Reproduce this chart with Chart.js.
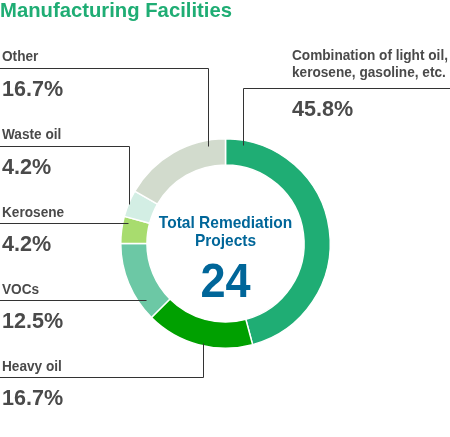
<!DOCTYPE html>
<html>
<head>
<meta charset="utf-8">
<script src="https://cdn.jsdelivr.net/npm/chart.js@4"></script>
<style>
  html, body { margin: 0; padding: 0; background: #fff; }
  #wrap { position: relative; width: 450px; height: 437px; }
</style>
</head>
<body>
<div id="wrap"><canvas id="grafico" width="450" height="437"></canvas></div>
<script>
const TITULO = 'Manufacturing Facilities';
const categorias = ['Combination of light oil, kerosene, gasoline, etc.', 'Heavy oil', 'VOCs', 'Kerosene', 'Waste oil', 'Other'];
const proyectos = [11, 4, 3, 1, 1, 4];
const colores = ['#1fad74', '#00a000', '#6cc8a5', '#a8dc6e', '#d3eee4', '#d2dbcd'];

const FUENTE = "'Liberation Sans', Arial, sans-serif";
const total = proyectos.reduce((a, b) => a + b, 0);
const pct = v => (v / total * 100).toFixed(1) + '%';

// posiciones de las etiquetas (lineas base del nombre y del valor, linea guia)
const etiquetas = [
    { lineas: ['Combination of light oil,', 'kerosene, gasoline, etc.'], x: 292, yNom: [60, 77], yVal: 116,
      guia: [[450, 88], [243, 88], [243, 145]] },
    { lineas: ['Heavy oil'], x: 2, yNom: [371], yVal: 405, guia: [[0, 377], [203, 377], [203, 343]] },
    { lineas: ['VOCs'], x: 2, yNom: [294], yVal: 328, guia: [[0, 300], [146, 300]] },
    { lineas: ['Kerosene'], x: 2, yNom: [217], yVal: 251, guia: [[0, 223], [128, 223]] },
    { lineas: ['Waste oil'], x: 2, yNom: [139], yVal: 174, guia: [[0, 146], [129, 146], [129, 204]] },
    { lineas: ['Other'], x: 2, yNom: [61], yVal: 96, guia: [[0, 68], [208, 68], [208, 146]] }
];

// texto estrechado en horizontal (la original usa una fuente condensada)
function texto(ctx, t, x, y, esc, alin) {
    ctx.save();
    ctx.translate(x, y);
    ctx.scale(esc, 1);
    ctx.textAlign = alin || 'left';
    ctx.fillText(t, 0, 0);
    ctx.restore();
}

const pluginTextos = {
    id: 'textos',
    afterDraw(chart) {
        const ctx = chart.ctx;
        ctx.save();
        ctx.textBaseline = 'alphabetic';
        ctx.fillStyle = '#1fad74';
        ctx.font = 'bold 21px ' + FUENTE;
        texto(ctx, TITULO, 0, 17, 0.965);

        ctx.strokeStyle = '#333';
        ctx.lineWidth = 1;
        etiquetas.forEach((e, i) => {
            ctx.beginPath();
            e.guia.forEach((p, j) => {
                if (j === 0) ctx.moveTo(p[0], p[1] + 0.5);
                else ctx.lineTo(p[0] + 0.5, p[1] + 0.5);
            });
            ctx.stroke();
            ctx.fillStyle = '#4a4a4a';
            ctx.font = 'bold 14.5px ' + FUENTE;
            e.lineas.forEach((t, k) => texto(ctx, t, e.x, e.yNom[k], 0.94));
            ctx.font = 'bold 22px ' + FUENTE;
            texto(ctx, pct(proyectos[i]), e.x, e.yVal, 0.98);
        });

        const arco = chart.getDatasetMeta(0).data[0];
        const cx = arco.x, cy = arco.y;
        ctx.fillStyle = '#006699';
        ctx.font = 'bold 16.5px ' + FUENTE;
        texto(ctx, 'Total Remediation', cx, cy - 15.5, 0.94, 'center');
        texto(ctx, 'Projects', cx, cy + 2.5, 0.94, 'center');
        ctx.font = 'bold 49px ' + FUENTE;
        texto(ctx, String(total), cx, cy + 53, 0.92, 'center');
        ctx.restore();
    }
};

new Chart(document.getElementById('grafico'), {
    type: 'doughnut',
    data: {
        labels: categorias,
        datasets: [{
            data: proyectos,
            backgroundColor: colores,
            borderColor: '#fff',
            borderWidth: 1.5
        }]
    },
    options: {
        responsive: false,
        animation: false,
        cutout: '75%',
        layout: { padding: { top: 138, bottom: 88, left: 120, right: 119 } },
        plugins: { legend: { display: false }, tooltip: { enabled: false } }
    },
    plugins: [pluginTextos]
});
</script>
</body>
</html>
